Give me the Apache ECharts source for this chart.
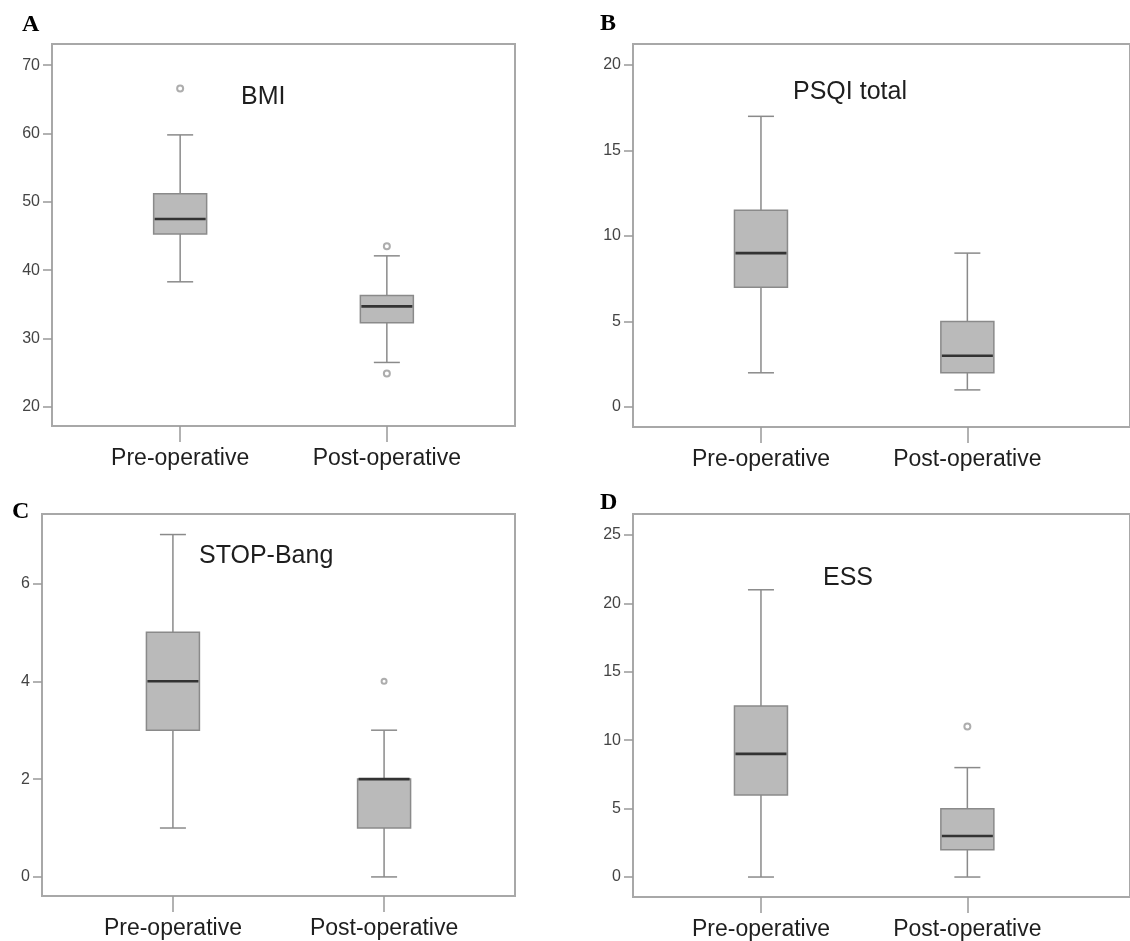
<!DOCTYPE html>
<html>
<head>
<meta charset="utf-8">
<script src="https://cdn.jsdelivr.net/npm/echarts@6/dist/echarts.min.js"></script>
<style>
  html, body { margin: 0; padding: 0; background: #fff; }
  #chart { width: 1130px; height: 941px; }
</style>
</head>
<body>
<div id="chart"></div>
<script>
// categories on the x axis (0 = pre, 1 = post)
const categories = ['Pre-operative', 'Post-operative'];

// box stats: [x, min, Q1, median, Q3, max]
const bmiBox = [[0, 38.3, 45.3, 47.5, 51.2, 59.8], [1, 26.5, 32.3, 34.7, 36.3, 42.1]];
const bmiOutliers = [[0, 66.6], [1, 43.5], [1, 24.9]];
const bmiTicks = [20, 30, 40, 50, 60, 70];

const psqiBox = [[0, 2, 7, 9, 11.5, 17], [1, 1, 2, 3, 5, 9]];
const psqiOutliers = [];
const psqiTicks = [0, 5, 10, 15, 20];

const stopBox = [[0, 1, 3, 4, 5, 7], [1, 0, 1, 2, 2, 3]];
const stopOutliers = [[1, 4]];
const stopTicks = [0, 2, 4, 6];

const essBox = [[0, 0, 6, 9, 12.5, 21], [1, 0, 2, 3, 5, 8]];
const essOutliers = [[1, 11]];
const essTicks = [0, 5, 10, 15, 20, 25];

const panels = [
  { letter: 'A', title: 'BMI', box: bmiBox, out: bmiOutliers, ticks: bmiTicks, ymin: 17.2, ymax: 73.1,
    grid: { left: 52, top: 44, width: 463, height: 382 }, xmax: 1.62,
    letterPos: [22, 13], titlePos: [241, 85], outSize: 6 },
  { letter: 'B', title: 'PSQI total', box: psqiBox, out: psqiOutliers, ticks: psqiTicks, ymin: -1.17, ymax: 21.23,
    grid: { left: 633, top: 44, width: 500, height: 383 }, xmax: 1.788,
    letterPos: [600, 12], titlePos: [793, 80], outSize: 6 },
  { letter: 'C', title: 'STOP-Bang', box: stopBox, out: stopOutliers, ticks: stopTicks, ymin: -0.39, ymax: 7.42,
    grid: { left: 42, top: 514, width: 473, height: 382 }, xmax: 1.62,
    letterPos: [12, 500], titlePos: [199, 544], outSize: 5 },
  { letter: 'D', title: 'ESS', box: essBox, out: essOutliers, ticks: essTicks, ymin: -1.46, ymax: 26.54,
    grid: { left: 633, top: 514, width: 500, height: 383 }, xmax: 1.788,
    letterPos: [600, 491], titlePos: [823, 566], outSize: 6 }
];

const BOX_W = 53;
const CAP_W = 26;
const LINE = '#8a8a8a';

// box, whiskers, caps and a dark median, all placed with api.coord
function renderBox(params, api) {
  const x = api.value(0);
  const pMin = api.coord([x, api.value(1)]);
  const pQ1 = api.coord([x, api.value(2)]);
  const pMed = api.coord([x, api.value(3)]);
  const pQ3 = api.coord([x, api.value(4)]);
  const pMax = api.coord([x, api.value(5)]);
  const cx = pMed[0];
  const lineStyle = { stroke: LINE, lineWidth: 1.5, fill: null };
  return {
    type: 'group',
    children: [
      { type: 'line', shape: { x1: cx, y1: pQ3[1], x2: cx, y2: pMax[1] }, style: lineStyle },
      { type: 'line', shape: { x1: cx, y1: pQ1[1], x2: cx, y2: pMin[1] }, style: lineStyle },
      { type: 'line', shape: { x1: cx - CAP_W / 2, y1: pMax[1], x2: cx + CAP_W / 2, y2: pMax[1] }, style: lineStyle },
      { type: 'line', shape: { x1: cx - CAP_W / 2, y1: pMin[1], x2: cx + CAP_W / 2, y2: pMin[1] }, style: lineStyle },
      { type: 'rect', shape: { x: cx - BOX_W / 2, y: pQ3[1], width: BOX_W, height: pQ1[1] - pQ3[1] },
        style: { fill: '#bababa', stroke: LINE, lineWidth: 1.5 } },
      { type: 'line', shape: { x1: cx - BOX_W / 2 + 1, y1: pMed[1], x2: cx + BOX_W / 2 - 1, y2: pMed[1] },
        style: { stroke: '#333', lineWidth: 2.6 } }
    ]
  };
}

const chart = echarts.init(document.getElementById('chart'), null, { renderer: 'canvas' });

const titles = [];
const grids = [];
const xAxes = [];
const yAxes = [];
const series = [];

panels.forEach((p, i) => {
  titles.push({
    text: p.letter, left: p.letterPos[0], top: p.letterPos[1], padding: 0,
    textStyle: { fontFamily: 'Liberation Serif', fontWeight: 'bold', fontSize: 24, color: '#000' }
  });
  titles.push({
    text: p.title, left: p.titlePos[0], top: p.titlePos[1], padding: 0,
    textStyle: { fontFamily: 'Liberation Sans', fontWeight: 'normal', fontSize: 25, color: '#1e1e1e' }
  });
  grids.push(Object.assign({ show: true, borderColor: '#a8a8a8', borderWidth: 2, backgroundColor: '#fff' }, p.grid));
  xAxes.push({
    gridIndex: i, type: 'value', min: -0.62, max: p.xmax, position: 'bottom',
    axisLine: { show: false, onZero: false },
    splitLine: { show: false },
    axisTick: { show: true, customValues: [0, 1], length: 16, lineStyle: { color: '#999', width: 1.5 } },
    axisLabel: {
      customValues: [0, 1], margin: 21, formatter: v => categories[v],
      fontFamily: 'Liberation Sans', fontSize: 23, color: '#1e1e1e'
    }
  });
  yAxes.push({
    gridIndex: i, type: 'value', min: p.ymin, max: p.ymax, position: 'left',
    axisLine: { show: false, onZero: false },
    splitLine: { show: false },
    axisTick: { show: true, customValues: p.ticks, length: 9, lineStyle: { color: '#999', width: 1.5 } },
    axisLabel: {
      customValues: p.ticks, margin: 12,
      fontFamily: 'Liberation Sans', fontSize: 16, color: '#444'
    }
  });
  series.push({
    type: 'custom', xAxisIndex: i, yAxisIndex: i,
    data: p.box, renderItem: renderBox,
    encode: { x: 0, y: [1, 2, 3, 4, 5] },
    silent: true
  });
  series.push({
    type: 'scatter', xAxisIndex: i, yAxisIndex: i,
    data: p.out, symbol: 'emptyCircle', symbolSize: p.outSize,
    itemStyle: { color: '#999', borderWidth: 1.3 }, silent: true, z: 6
  });
});

chart.setOption({
  animation: false,
  backgroundColor: '#fff',
  title: titles,
  grid: grids,
  xAxis: xAxes,
  yAxis: yAxes,
  series: series
});
</script>
</body>
</html>
